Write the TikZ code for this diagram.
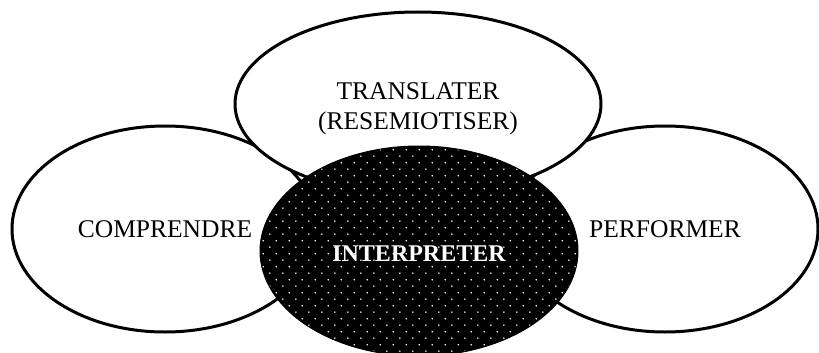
\documentclass[tikz,border=0pt]{standalone}
\usepackage{fontspec}
\setmainfont{Liberation Serif}
\usepackage{tikz}
\usetikzlibrary{shapes.geometric,patterns.meta}

\tikzdeclarepattern{
  name=whitedots,
  type=uncolored,
  bounding box={(0pt,0pt) and (13.4pt,13.4pt)},
  tile size={(13.4pt,13.4pt)},
  code={
    \fill (3pt,3pt) circle (0.9pt);
    \fill (9.7pt,9.7pt) circle (0.9pt);
  }
}

\tikzset{
  bubble/.style={ellipse, draw=black, line width=3pt, fill=white, inner sep=0pt,
    font=\fontsize{25.5pt}{30pt}\selectfont, align=center},
  core/.style={ellipse, draw=black, line width=1pt, inner sep=0pt,
    preaction={fill=black}, pattern=whitedots, pattern color=white,
    text=white, font=\fontsize{24pt}{30pt}\selectfont\bfseries}
}

\begin{document}
\begin{tikzpicture}[x=1pt, y=-1pt]
    % Fix the page size
    \useasboundingbox (0,0) rectangle (819,353);

    % Draw the outer ellipses
    \node[bubble, minimum width=306pt, minimum height=206pt] (comprendre) at (165,229) {COMPRENDRE};
    \node[bubble, minimum width=306pt, minimum height=206pt] (performer) at (665,229) {PERFORMER};
    \node[bubble, minimum width=366pt, minimum height=184pt] (translater) at (418,104) {};
    \node[font=\fontsize{25.5pt}{30pt}\selectfont, align=center] (translatertext)
        at ([yshift=-5pt]translater.center) {TRANSLATER\\(RESEMIOTISER)};

    % Draw the dotted core
    \node[core, minimum width=318pt, minimum height=210pt] (interpreter) at (419,251) {};
    \node[text=white, font=\fontsize{24pt}{30pt}\selectfont\bfseries] (interpretertext)
        at ([yshift=-3pt]interpreter.center) {INTERPRETER};
\end{tikzpicture}
\end{document}
